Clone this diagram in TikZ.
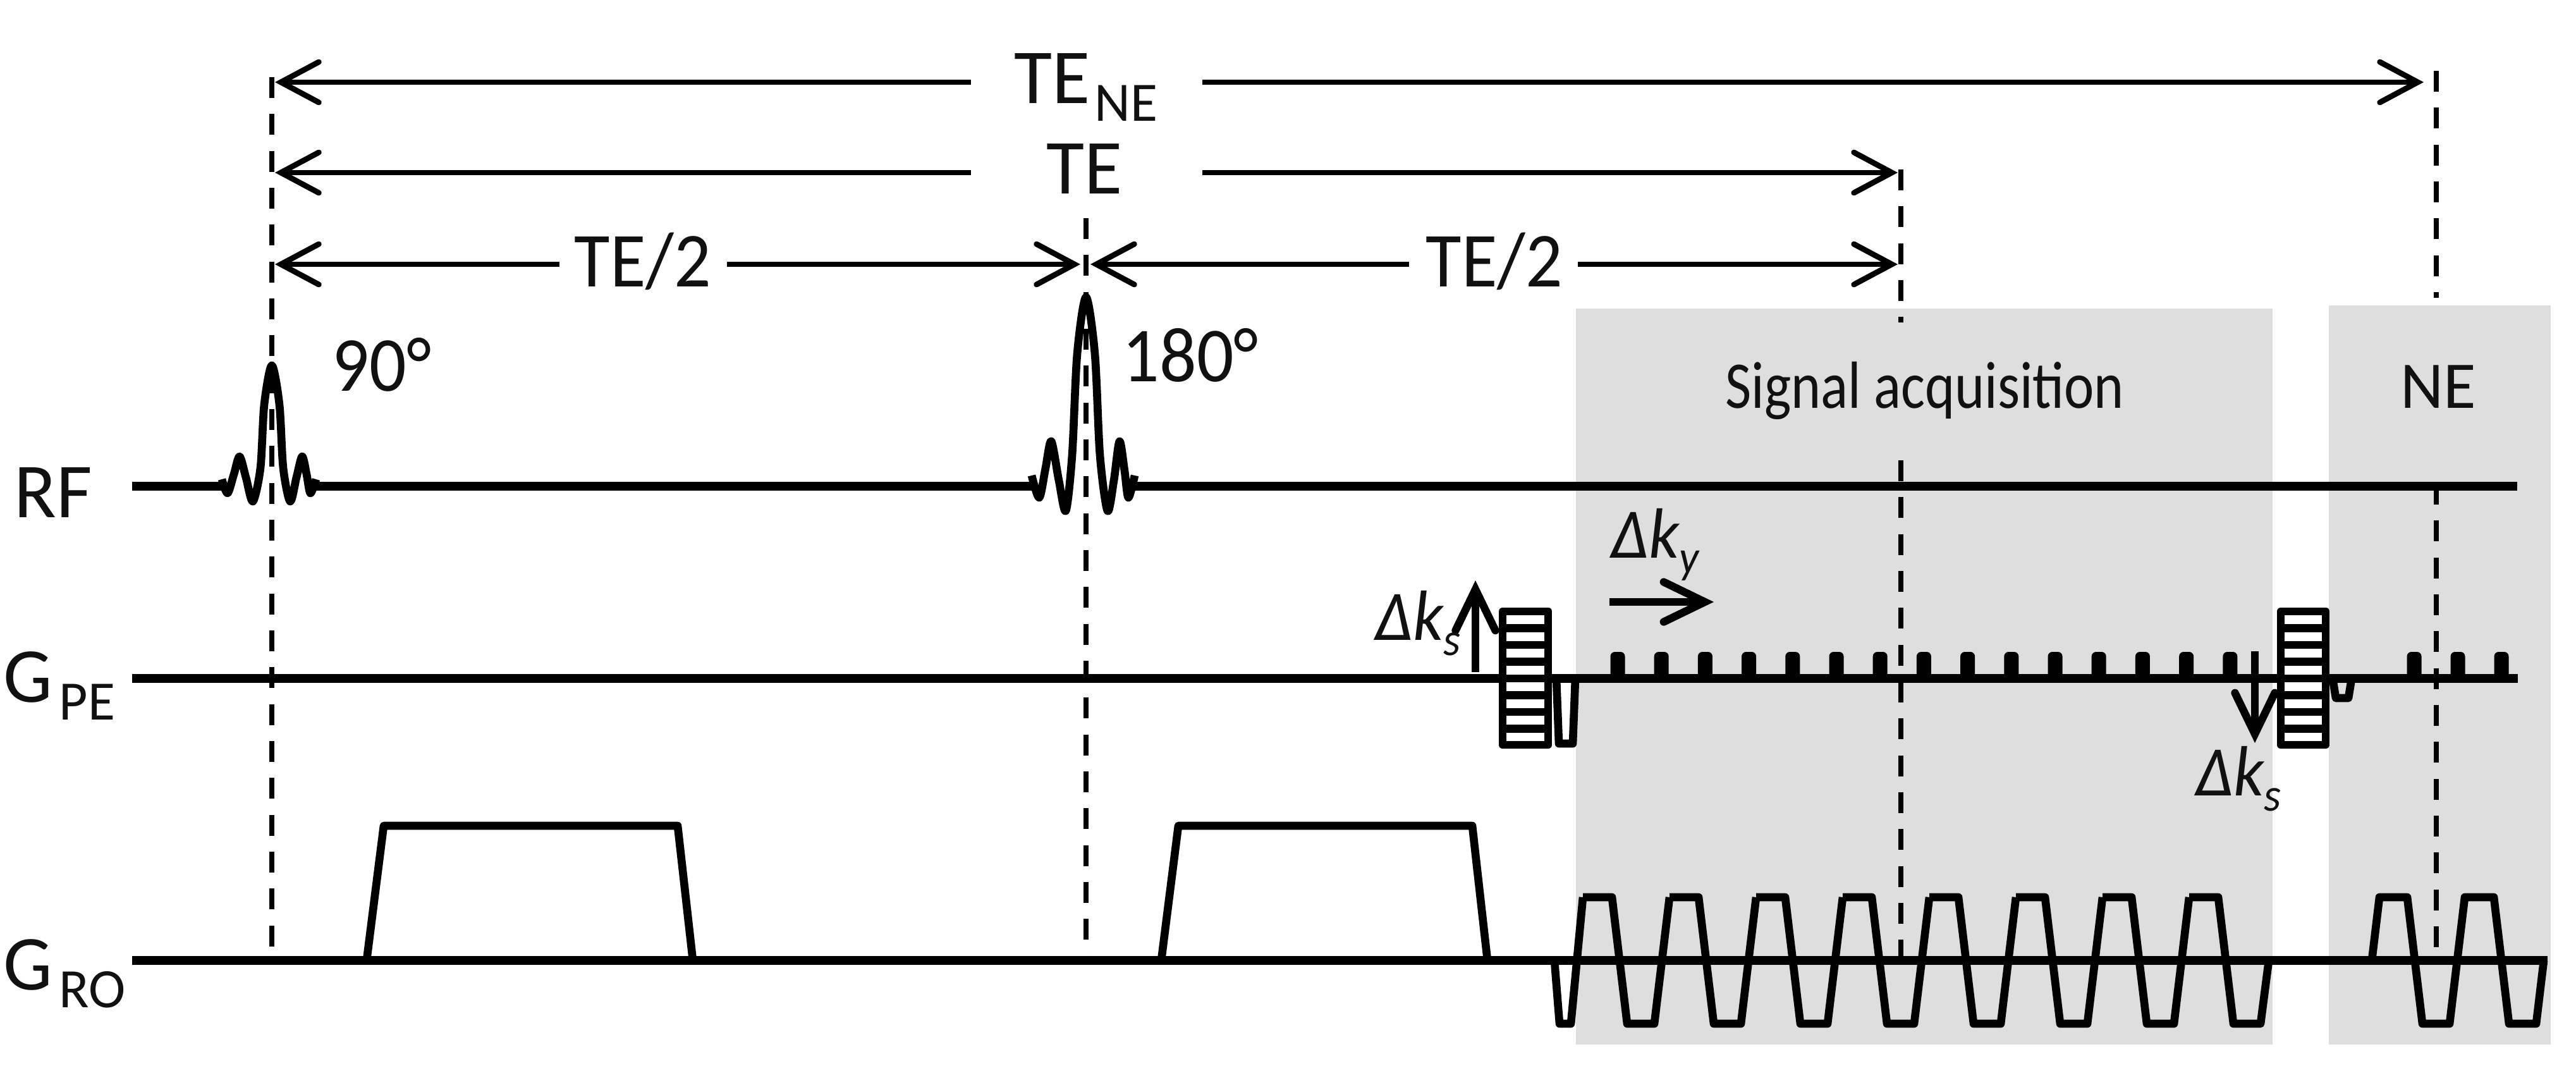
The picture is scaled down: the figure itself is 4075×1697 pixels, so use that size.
\documentclass[tikz,border=0pt]{standalone}
\usepackage{fontspec}
\setmainfont{Carlito}
\newfontfamily\narrowfont[FakeStretch=0.94]{Carlito}
\newfontfamily\signalfont[FakeStretch=0.85]{Carlito}
\usetikzlibrary{arrows.meta}
\definecolor{boxgray}{HTML}{DEDEDE}
\definecolor{labelblack}{HTML}{111111}
\newcommand{\lowsub}[1]{{\fontsize{25}{25}\selectfont\raisebox{-8pt}{#1}}}
\newcommand{\lowital}[1]{{\fontsize{21}{21}\selectfont\raisebox{-7pt}{#1}}}
\tikzset{
  axisline/.style={line width=3.8pt},
  gradline/.style={line width=3.6pt, line join=round},
  marker/.style={line width=2.5pt, dash pattern=on 3.3mm off 2.53mm},
  span/.style={line width=2.5pt, -{Straight Barb[length=6mm,width=6.4mm,line cap=round,line join=miter]}},
  kstep/.style={line width=3.5pt, -{Straight Barb[length=6.5mm,width=6.3mm,line cap=round,line join=miter]}},
  biglabel/.style={anchor=base west, inner sep=0pt, text=labelblack, font=\fontsize{35}{35}\selectfont},
  narrowlabel/.style={anchor=base west, inner sep=0pt, text=labelblack, font=\fontsize{35}{35}\selectfont\narrowfont},
  boxlabel/.style={anchor=base west, inner sep=0pt, text=labelblack, font=\fontsize{30}{30}\selectfont},
  klabel/.style={anchor=base west, inner sep=0pt, text=labelblack, font=\fontsize{32}{32}\selectfont\narrowfont\itshape},
}

\begin{document}
\begin{tikzpicture}[x=0.01cm,y=-0.01cm]
\useasboundingbox (0,0) rectangle (4075,1697);

% Grey acquisition boxes
\fill[boxgray] (2493,488) rectangle (3595,1652);
\fill[boxgray] (3684,483) rectangle (4035,1652);

% Timing markers
\draw[marker] (430,122) -- (430,1497);
\draw[marker] (1718,345) -- (1718,1513);
\draw[marker] (3007,268) -- (3007,510);
\draw[marker] (3007,728) -- (3007,1513);
\draw[marker] (3854,112) -- (3854,471);
\draw[marker] (3854,765) -- (3854,1498);

% Echo time labels
\node[biglabel] (tene) at (1604,163) {TE\kern2pt\lowsub{NE}};
\node[biglabel] (te) at (1655,307) {TE};
\node[narrowlabel] (tehalfa) at (908,453) {TE/2};
\node[narrowlabel] (tehalfb) at (2255,453) {TE/2};

% Echo time spans
\coordinate (neleft) at (435,130);
\coordinate (neright) at (3834,130);
\coordinate (teleft) at (435,273);
\coordinate (teright) at (3002,273);
\coordinate (halfa) at (435,418);
\coordinate (halfb) at (1709,418);
\coordinate (halfc) at (1725,418);
\coordinate (halfd) at (3002,418);
\draw[span] (1536,130) -- (neleft);
\draw[span] (1902,130) -- (neright);
\draw[span] (1536,273) -- (teleft);
\draw[span] (1902,273) -- (teright);
\draw[span] (885,418) -- (halfa);
\draw[span] (1150,418) -- (halfb);
\draw[span] (2229,418) -- (halfc);
\draw[span] (2496,418) -- (halfd);

% RF
\node[biglabel] (rf) at (22,818) {RF};
\node[narrowlabel] (flip) at (525,618) {90°};
\node[narrowlabel] (refocus) at (1775,603) {180°};
\draw[axisline] (209,769) -- (352,769);
\draw[axisline] (498,769) -- (1634,769);
\draw[axisline] (1795,769) -- (3982,769);
\draw[gradline] plot[smooth,tension=0.5] coordinates {(351,758) (360,780) (370,750) (379,722) (389,755) (400,793) (412,740) (418,640) (430,578) (442,640) (448,740) (459,793) (469,755) (478,722) (485,750) (491,780) (500,758)};
\draw[gradline] plot[smooth,tension=0.5] coordinates {(1632,752) (1644,787) (1654,740) (1663,698) (1675,760) (1686,808) (1696,720) (1704,560) (1718,470) (1732,560) (1740,720) (1752,808) (1762,760) (1771,698) (1779,745) (1785,787) (1795,752)};

% GPE
\node[biglabel] (gpe) at (5,1110) {G\kern3pt\lowsub{PE}};
\draw[axisline] (209,1073) -- (3983,1073);
\foreach \x in {0,...,14}
  \fill[rounded corners=2pt] ({2547.5+69.2*\x},1073) rectangle ({2570.5+69.2*\x},1031);
\foreach \x in {3819,3888,3957}
  \fill[rounded corners=2pt] ({\x-11.5},1073) rectangle ({\x+11.5},1031);

% Slice step ladders
\foreach \lx/\rx in {2377/2449,3608/3679} {
  \draw[gradline, fill=white] (\lx,967) rectangle (\rx,1178);
  \foreach \k in {-3,...,3}
    \draw[gradline] (\lx,{1073+26.5*\k}) -- (\rx,{1073+26.5*\k});
}
\draw[gradline] (2462,1073) -- (2466,1176) -- (2488,1176) -- (2492,1073);
\draw[gradline] (3690,1073) -- (3695,1104) -- (3715,1104) -- (3720,1073);

% k-space steps
\coordinate (upstart) at (2334,1063);
\coordinate (uptip) at (2334,918);
\coordinate (downstart) at (3567,1030);
\coordinate (downtip) at (3567,1175);
\coordinate (kystart) at (2546,952);
\coordinate (kytip) at (2711,952);
\draw[kstep] (upstart) -- (uptip);
\draw[kstep] (downstart) -- (downtip);
\draw[kstep] (kystart) -- (kytip);
\node[klabel] (ksa) at (2175,1012) {Δk\lowital{s}};
\node[klabel] (ky) at (2548,882) {Δk\lowital{y}};
\node[klabel] (ksb) at (3473,1258) {Δk\lowital{s}};

% GRO
\node[biglabel] (gro) at (5,1565) {G\kern3pt\lowsub{RO}};
\draw[axisline] (209,1519) -- (4030,1519);
\draw[gradline] (580,1519) -- (607,1306) -- (1072,1306) -- (1096,1519);
\draw[gradline] (1837,1519) -- (1864,1306) -- (2329,1306) -- (2353,1519);

% Readout train
\draw[gradline] (2459,1519) -- (2467,1619) -- (2485,1619) -- (2504,1419);
\foreach \k in {0,...,6}
  \draw[gradline] ({2504+137*\k},1419) -- ({2550+137*\k},1419) -- ({2574+137*\k},1619) -- ({2617+137*\k},1619) -- ({2641+137*\k},1419);
\draw[gradline] (3463,1419) -- (3509,1419) -- (3533,1619) -- (3576,1619) -- (3589,1519);

% Navigator train
\draw[gradline] (3752,1519) -- (3764,1419) -- (3808,1419) -- (3832,1619) -- (3875,1619) -- (3899,1419) -- (3945,1419) -- (3969,1619) -- (4012,1619) -- (4024,1519);

% Box labels
\node[boxlabel] (signal) at (2729,645) {\signalfont Signal acquisition};
\node[boxlabel] (ne) at (3797,645) {NE};
\end{tikzpicture}
\end{document}
